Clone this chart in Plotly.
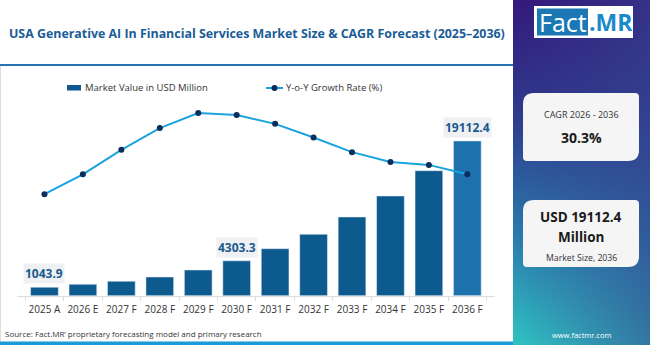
import base64
import plotly.graph_objects as go

categories = ["2025 A", "2026 E", "2027 F", "2028 F", "2029 F", "2030 F",
              "2031 F", "2032 F", "2033 F", "2034 F", "2035 F", "2036 F"]
market_value = [1043.9, 1408, 1778, 2310, 3174, 4303.3, 5805, 7583, 9720, 12313, 15440, 19112.4]
yoy_growth = [19.8, 24.0, 29.2, 33.8, 37.0, 36.6, 34.7, 31.8, 28.7, 26.6, 26.0, 24.0]
labelled = {"2025 A": "1043.9", "2030 F": "4303.3", "2036 F": "19112.4"}

W, H = 650, 345
FONT = "Open Sans"


def px(x):
    return x / W


def py(y):
    return 1 - y / H


bar_colors = ["#0d5a8e"] * (len(categories) - 1) + ["#1d72ad"]

fig = go.Figure()
fig.add_trace(go.Bar(x=categories, y=market_value, marker_color=bar_colors,
                     width=0.72, name="Market Value in USD Million", showlegend=False))
fig.add_trace(go.Scatter(x=categories, y=yoy_growth, yaxis="y2", mode="lines+markers",
                         line=dict(color="#1aa3dc", width=2),
                         marker=dict(color="#0a2d5e", size=6),
                         name="Y-o-Y Growth Rate (%)", showlegend=False))

# gradient side panel
svg = """<svg xmlns='http://www.w3.org/2000/svg' width='137' height='345' preserveAspectRatio='none' viewBox='0 0 137 345'>
<defs>
<linearGradient id='v' x1='0' y1='0' x2='0' y2='1'>
<stop offset='0' stop-color='#34187a'/>
<stop offset='0.35' stop-color='#2d3d8e'/>
<stop offset='0.7' stop-color='#2a7fae'/>
<stop offset='1' stop-color='#2fc4c2'/>
</linearGradient>
<linearGradient id='h' x1='0' y1='0' x2='1' y2='0'>
<stop offset='0' stop-color='#3a3c90' stop-opacity='0'/>
<stop offset='1' stop-color='#35448e' stop-opacity='0.6'/>
</linearGradient>
</defs>
<rect width='137' height='345' fill='url(#v)'/>
<rect width='137' height='345' fill='url(#h)'/>
</svg>"""
src = "data:image/svg+xml;base64," + base64.b64encode(svg.encode()).decode()

images = [dict(source=src, xref="paper", yref="paper", x=px(513), y=1,
               sizex=px(137), sizey=1, sizing="stretch", layer="below",
               xanchor="left", yanchor="top")]


def rounded_box(x0, y0, x1, y1, rbig, rsmall):
    path = (f"M {px(x0)},{py(y0 + rbig)} "
            f"Q {px(x0)},{py(y0)} {px(x0 + rbig)},{py(y0)} "
            f"L {px(x1 - rsmall)},{py(y0)} "
            f"Q {px(x1)},{py(y0)} {px(x1)},{py(y0 + rsmall)} "
            f"L {px(x1)},{py(y1 - rbig)} "
            f"Q {px(x1)},{py(y1)} {px(x1 - rbig)},{py(y1)} "
            f"L {px(x0 + rsmall)},{py(y1)} "
            f"Q {px(x0)},{py(y1)} {px(x0)},{py(y1 - rsmall)} Z")
    return dict(type="path", xref="paper", yref="paper", path=path,
                fillcolor="#f5f5f6", line=dict(width=0), layer="above")


shapes = [
    dict(type="rect", xref="paper", yref="paper", x0=0, x1=px(513), y0=py(66), y1=py(64),
         fillcolor="#2a72b5", line=dict(width=0)),
    dict(type="line", xref="paper", yref="paper", x0=px(0.5), x1=px(0.5), y0=py(66), y1=py(342),
         line=dict(color="#dcdcdc", width=1)),
    dict(type="rect", xref="paper", yref="paper", x0=0, x1=px(513), y0=0, y1=py(341.5),
         fillcolor="#1a9ad8", line=dict(width=0)),
    dict(type="rect", xref="paper", yref="paper", x0=px(67), x1=px(81), y0=py(90.5), y1=py(85),
         fillcolor="#0d5a8e", line=dict(width=0)),
    dict(type="line", xref="paper", yref="paper", x0=px(266), x1=px(283), y0=py(88), y1=py(88),
         line=dict(color="#1aa3dc", width=2)),
    dict(type="circle", xref="paper", yref="paper", x0=px(271.5), x1=px(277.5), y0=py(91), y1=py(85),
         fillcolor="#0a2d5e", line=dict(width=0)),
    dict(type="rect", xref="paper", yref="paper", x0=px(534), x1=px(633), y0=py(38), y1=py(6),
         fillcolor="#ffffff", line=dict(width=0), layer="above"),
    dict(type="rect", xref="paper", yref="paper", x0=px(537), x1=px(588), y0=py(35.5), y1=py(8.5),
         fillcolor="#1b78b4", line=dict(width=0), layer="above"),
    rounded_box(523, 93, 639, 161, 11, 4),
    rounded_box(523, 200, 639, 267, 11, 4),
]

annotations = [
    dict(text="<b>USA Generative AI In Financial Services Market Size & CAGR Forecast (2025\u20132036)</b>",
         xref="paper", yref="paper", x=px(7), y=py(34), xanchor="left", yanchor="middle",
         showarrow=False, font=dict(family=FONT, size=12.4, color="#1a5c97")),
    dict(text="Market Value in USD Million", xref="paper", yref="paper", x=px(83), y=py(88),
         xanchor="left", yanchor="middle", showarrow=False,
         font=dict(family=FONT, size=9.5, color="#333333")),
    dict(text="Y-o-Y Growth Rate (%)", xref="paper", yref="paper", x=px(284), y=py(88),
         xanchor="left", yanchor="middle", showarrow=False,
         font=dict(family=FONT, size=9.5, color="#333333")),
    dict(text="Source: Fact.MR\u2019 proprietary forecasting model and primary research",
         xref="paper", yref="paper", x=px(3), y=py(333), xanchor="left", yanchor="middle",
         showarrow=False, font=dict(family=FONT, size=8, color="#333333")),
    dict(text="Fact", xref="paper", yref="paper", x=px(562.5), y=py(22), xanchor="center",
         yanchor="middle", showarrow=False, font=dict(family=FONT, size=25, color="#ffffff")),
    dict(text="<b>.MR</b>", xref="paper", yref="paper", x=px(610.5), y=py(22), xanchor="center",
         yanchor="middle", showarrow=False, font=dict(family=FONT, size=23, color="#1b8acb")),
    dict(text="CAGR 2026 - 2036", xref="paper", yref="paper", x=px(581), y=py(114),
         xanchor="center", yanchor="middle", showarrow=False,
         font=dict(family=FONT, size=9, color="#333333")),
    dict(text="<b>30.3%</b>", xref="paper", yref="paper", x=px(581), y=py(137),
         xanchor="center", yanchor="middle", showarrow=False,
         font=dict(family=FONT, size=14, color="#1a1a1a")),
    dict(text="<b>USD 19112.4</b>", xref="paper", yref="paper", x=px(581), y=py(217),
         xanchor="center", yanchor="middle", showarrow=False,
         font=dict(family=FONT, size=13.5, color="#1a1a1a")),
    dict(text="<b>Million</b>", xref="paper", yref="paper", x=px(581), y=py(237),
         xanchor="center", yanchor="middle", showarrow=False,
         font=dict(family=FONT, size=13.5, color="#1a1a1a")),
    dict(text="Market Size, 2036", xref="paper", yref="paper", x=px(581), y=py(257.5),
         xanchor="center", yanchor="middle", showarrow=False,
         font=dict(family=FONT, size=8.7, color="#333333")),
    dict(text="www.factmr.com", xref="paper", yref="paper", x=px(581), y=py(335),
         xanchor="center", yanchor="middle", showarrow=False,
         font=dict(family=FONT, size=7.5, color="#ffffff")),
]

for cat, val in zip(categories, market_value):
    if cat in labelled:
        annotations.append(dict(text=f"<b>{labelled[cat]}</b>", x=cat, y=val, xref="x", yref="y",
                                yanchor="bottom", yshift=3, showarrow=False,
                                bgcolor="#eef0f3", borderpad=1,
                                font=dict(family=FONT, size=12, color="#1b5a8c")))

fig.update_layout(
    width=W, height=H, autosize=False,
    margin=dict(l=0, r=0, t=0, b=0),
    paper_bgcolor="#ffffff", plot_bgcolor="#ffffff",
    xaxis=dict(domain=[px(16.8), px(495)], type="category", showgrid=False,
               showline=True, linecolor="#dddddd", linewidth=1,
               ticks="outside", tickson="boundaries", ticklen=4, tickcolor="#dddddd",
               tickangle=0, ticklabelstandoff=4,
               tickfont=dict(family=FONT, size=10, color="#333333")),
    yaxis=dict(domain=[py(295.7), py(100)], range=[0, 24170], visible=False, showgrid=False),
    yaxis2=dict(domain=[py(295.7), py(100)], range=[-1.73, 39.76], overlaying="y",
                visible=False, showgrid=False),
    shapes=shapes, annotations=annotations, images=images,
    showlegend=False,
)

fig.write_html("out.html")
